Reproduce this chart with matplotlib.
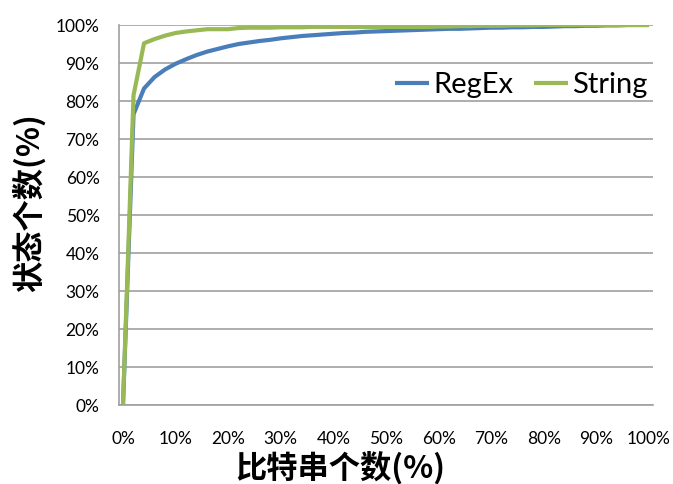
import matplotlib
matplotlib.use("Agg")
import matplotlib.pyplot as plt
from matplotlib.ticker import FuncFormatter, MultipleLocator

# Share of bit strings (%), sampled every 2%
bits_pct = list(range(0, 101, 2))

regex_pct = [0, 76.5, 83.3, 86.3, 88.3, 89.8, 91.0, 92.1, 93.0, 93.7,
             94.4, 95.0, 95.4, 95.8, 96.1, 96.5, 96.8, 97.1, 97.3, 97.5,
             97.7, 97.9, 98.0, 98.2, 98.3, 98.4, 98.5, 98.6, 98.7, 98.8,
             98.9, 99.0, 99.0, 99.1, 99.2, 99.3, 99.3, 99.4, 99.4, 99.5,
             99.5, 99.6, 99.7, 99.7, 99.8, 99.8, 99.9, 99.9, 100, 100, 100]

string_pct = [0, 81.5, 95.2, 96.3, 97.2, 97.9, 98.3, 98.6, 98.9, 98.9,
              98.9, 99.2, 99.3, 99.3, 99.3, 99.4, 99.4, 99.4, 99.5, 99.5,
              99.5, 99.5, 99.5, 99.5, 99.5, 99.5, 99.5, 99.5, 99.5, 99.5,
              99.6, 99.6, 99.7, 99.7, 99.8, 99.8, 99.8, 99.9, 99.9, 99.9,
              100, 100, 100, 100, 100, 100, 100, 100, 100, 100, 100]

series_names = ["RegEx", "String"]
series_colors = ["#4a7ebb", "#98b954"]

tick_font = "Lato"
cjk_font = ["Noto Sans CJK SC", "DejaVu Sans"]

fig = plt.figure(figsize=(6.73, 4.84), dpi=100)
ax = fig.add_axes([119 / 673, 79 / 484, 534 / 673, 380 / 484])

for vals, name, col in zip([regex_pct, string_pct], series_names, series_colors):
    ax.plot(bits_pct, vals, color=col, lw=3.0, label=name,
            solid_joinstyle="round", solid_capstyle="butt")

ax.set_xlim(-0.76, 100.76)
ax.set_ylim(0, 100)
ax.xaxis.set_major_locator(MultipleLocator(10))
ax.yaxis.set_major_locator(MultipleLocator(10))
pct = FuncFormatter(lambda v, _: f"{int(round(v))}%")
ax.xaxis.set_major_formatter(pct)
ax.yaxis.set_major_formatter(pct)

ax.grid(axis="y", color="#a0a0a0", lw=1.2)
ax.set_axisbelow(True)
for side in ("top", "right"):
    ax.spines[side].set_visible(False)
for side in ("left", "bottom"):
    ax.spines[side].set_color("#a0a0a0")
    ax.spines[side].set_linewidth(1.2)

ax.tick_params(axis="both", length=0, labelsize=12.5, colors="black")
ax.tick_params(axis="x", pad=18.5)
ax.tick_params(axis="y", pad=14)
for lab in ax.get_xticklabels() + ax.get_yticklabels():
    lab.set_fontfamily(tick_font)

leg = ax.legend(loc="center right", bbox_to_anchor=(0.989, 0.842), ncol=2,
                frameon=False, handlelength=1.17, handletextpad=0.14,
                columnspacing=0.7, borderaxespad=0.0, borderpad=0.0,
                prop={"family": tick_font, "size": 21})

fig.text(340 / 673, 1 - 468 / 484, "比特串个数(%)", ha="center", va="center",
         fontsize=22.5, fontweight="bold", family=cjk_font)
fig.text(29 / 673, 1 - 203 / 484, "状态个数(%)", ha="center", va="center",
         rotation=90, fontsize=22.5, fontweight="bold", family=cjk_font)

fig.savefig("out.png", dpi=100)
